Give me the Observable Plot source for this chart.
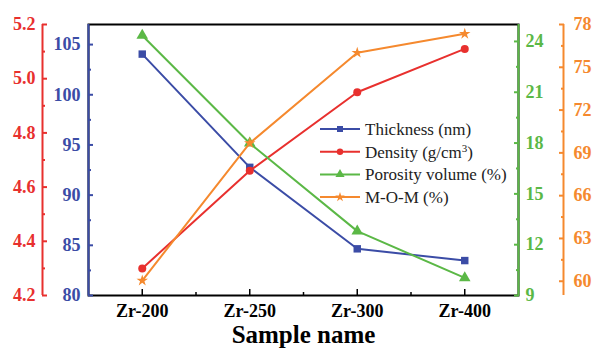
<!DOCTYPE html>
<html><head><meta charset="utf-8">
<script src="https://cdn.jsdelivr.net/npm/d3@7"></script>
<script src="https://cdn.jsdelivr.net/npm/@observablehq/plot@0.6"></script>
<style>body{margin:0;background:#fff}#chart svg{display:block}</style>
</head><body><div id="chart"></div>
<script>
const samples = ["Zr-200", "Zr-250", "Zr-300", "Zr-400"];
const thickness = [104.05, 92.77, 84.65, 83.48];
const density = [4.30, 4.66, 4.95, 5.11];
const porosity = [24.35, 17.99, 12.80, 10.04];
const mom = [60.05, 69.68, 76.02, 77.35];

const thicknessTicks = [80, 85, 90, 95, 100, 105];
const densityTicks = [4.2, 4.4, 4.6, 4.8, 5.0, 5.2];
const porosityTicks = [9, 12, 15, 18, 21, 24];
const momTicks = [60, 63, 66, 69, 72, 75, 78];

const W = 595, H = 352;
const FONT = "'Liberation Serif', 'Times New Roman', serif";

const series = [
  {key: "thickness", label: "Thickness (nm)", values: thickness, domain: [80, 107], ticks: thicknessTicks,
   color: "#3B4CA6", symbol: "square", r: 4.2, lr: 3.4, fmt: d3.format("d"), anchor: "left", dx: 0, pad: 13},
  {key: "density", label: "Density (g/cm", sup: "3", tail: ")", values: density, domain: [4.2, 5.2], ticks: densityTicks,
   color: "#E8302E", symbol: "circle", r: 4, lr: 3.2, fmt: d3.format(".1f"), anchor: "left", dx: -46, pad: 12},
  {key: "porosity", label: "Porosity volume (%)", values: porosity, domain: [9, 25], ticks: porosityTicks,
   color: "#5BB846", symbol: "triangle", r: 4.3, lr: 3.4, fmt: d3.format("d"), anchor: "right", dx: 0, pad: 12},
  {key: "mom", label: "M-O-M (%)", values: mom, domain: [59, 78], ticks: momTicks,
   color: "#F5892E", symbol: "star", r: 3.6, lr: 3, fmt: d3.format("d"), anchor: "right", dx: 45, pad: 15}
];

const norm = (v, dom) => (v - dom[0]) / (dom[1] - dom[0]);
const denorm = (t, dom) => dom[0] + t * (dom[1] - dom[0]);
const xDomain = [-0.5, samples.length - 0.5];

const marks = [Plot.frame({stroke: "black", strokeWidth: 2})];

// x axis
marks.push(Plot.axisX(samples.map((s, i) => i), {
  anchor: "bottom", label: null, tickSize: -6, tickPadding: 15, strokeWidth: 1.5,
  tickFormat: i => samples[i], fontSize: 18, fontWeight: "bold", fontFamily: FONT, color: "black"
}));
marks.push(Plot.axisX(d3.pairs(samples.map((s, i) => i)).map(([a, b]) => (a + b) / 2), {
  anchor: "bottom", label: null, tickSize: -3, strokeWidth: 1.5, tickFormat: () => "", color: "black"
}));

for (const s of series) {
  const minor = d3.pairs(s.ticks).map(([a, b]) => (a + b) / 2);
  marks.push(Plot.ruleX([s.anchor === "left" ? xDomain[0] : xDomain[1]], {dx: s.dx, stroke: s.color, strokeWidth: 2}));
  marks.push(Plot.axisY(s.ticks.map(v => norm(v, s.domain)), {
    anchor: s.anchor, label: null, dx: s.dx, tickSize: -5, tickPadding: s.pad, strokeWidth: 2,
    tickFormat: t => s.fmt(+denorm(t, s.domain).toFixed(3)),
    fontSize: 18, fontWeight: "bold", fontFamily: FONT, color: s.color
  }));
  marks.push(Plot.axisY(minor.map(v => norm(v, s.domain)), {
    anchor: s.anchor, label: null, dx: s.dx, tickSize: -3, strokeWidth: 2, tickFormat: () => "", color: s.color
  }));
}

for (const s of series) {
  const pts = s.values.map((v, i) => ({i, y: norm(v, s.domain)}));
  marks.push(Plot.line(pts, {x: "i", y: "y", stroke: s.color, strokeWidth: 2}));
  marks.push(Plot.dot(pts, {x: "i", y: "y", symbol: s.symbol, r: s.r, fill: s.color, stroke: "none"}));
}

marks.push(Plot.text(["Sample name"], {frameAnchor: "bottom", dy: 47, fontSize: 25, fontWeight: "bold", fontFamily: FONT, fill: "black"}));

const chart = Plot.plot({
  width: W, height: H,
  marginTop: 24, marginBottom: 57, marginLeft: 88, marginRight: 77,
  x: {type: "linear", domain: xDomain, label: null},
  y: {type: "linear", domain: [0, 1], label: null},
  style: {fontFamily: FONT, background: "white", overflow: "visible"},
  marks
});
document.getElementById("chart").appendChild(chart);

// legend
const svg = d3.select(chart);
const lg = svg.append("g").attr("transform", "translate(320,129)");
const symMap = {square: d3.symbolSquare, circle: d3.symbolCircle, triangle: d3.symbolTriangle, star: d3.symbolStar};
series.forEach((s, k) => {
  const g = lg.append("g").attr("transform", `translate(0,${k * 22.7})`);
  g.append("line").attr("x1", 0).attr("x2", 40).attr("stroke", s.color).attr("stroke-width", 2);
  g.append("path").attr("transform", "translate(20,0)")
    .attr("d", d3.symbol(symMap[s.symbol], Math.PI * s.lr * s.lr)()).attr("fill", s.color);
  const t = g.append("text").attr("x", 45).attr("dy", "0.35em").attr("text-anchor", "start")
    .attr("font-family", FONT).attr("font-size", 17).attr("font-weight", "normal").attr("fill", "#222").text(s.label);
  if (s.sup) {
    t.append("tspan").attr("font-size", 11).attr("dy", -5.5).text(s.sup);
    t.append("tspan").attr("font-size", 17).attr("dy", 5.5).text(s.tail);
  }
});
</script>
</body></html>
